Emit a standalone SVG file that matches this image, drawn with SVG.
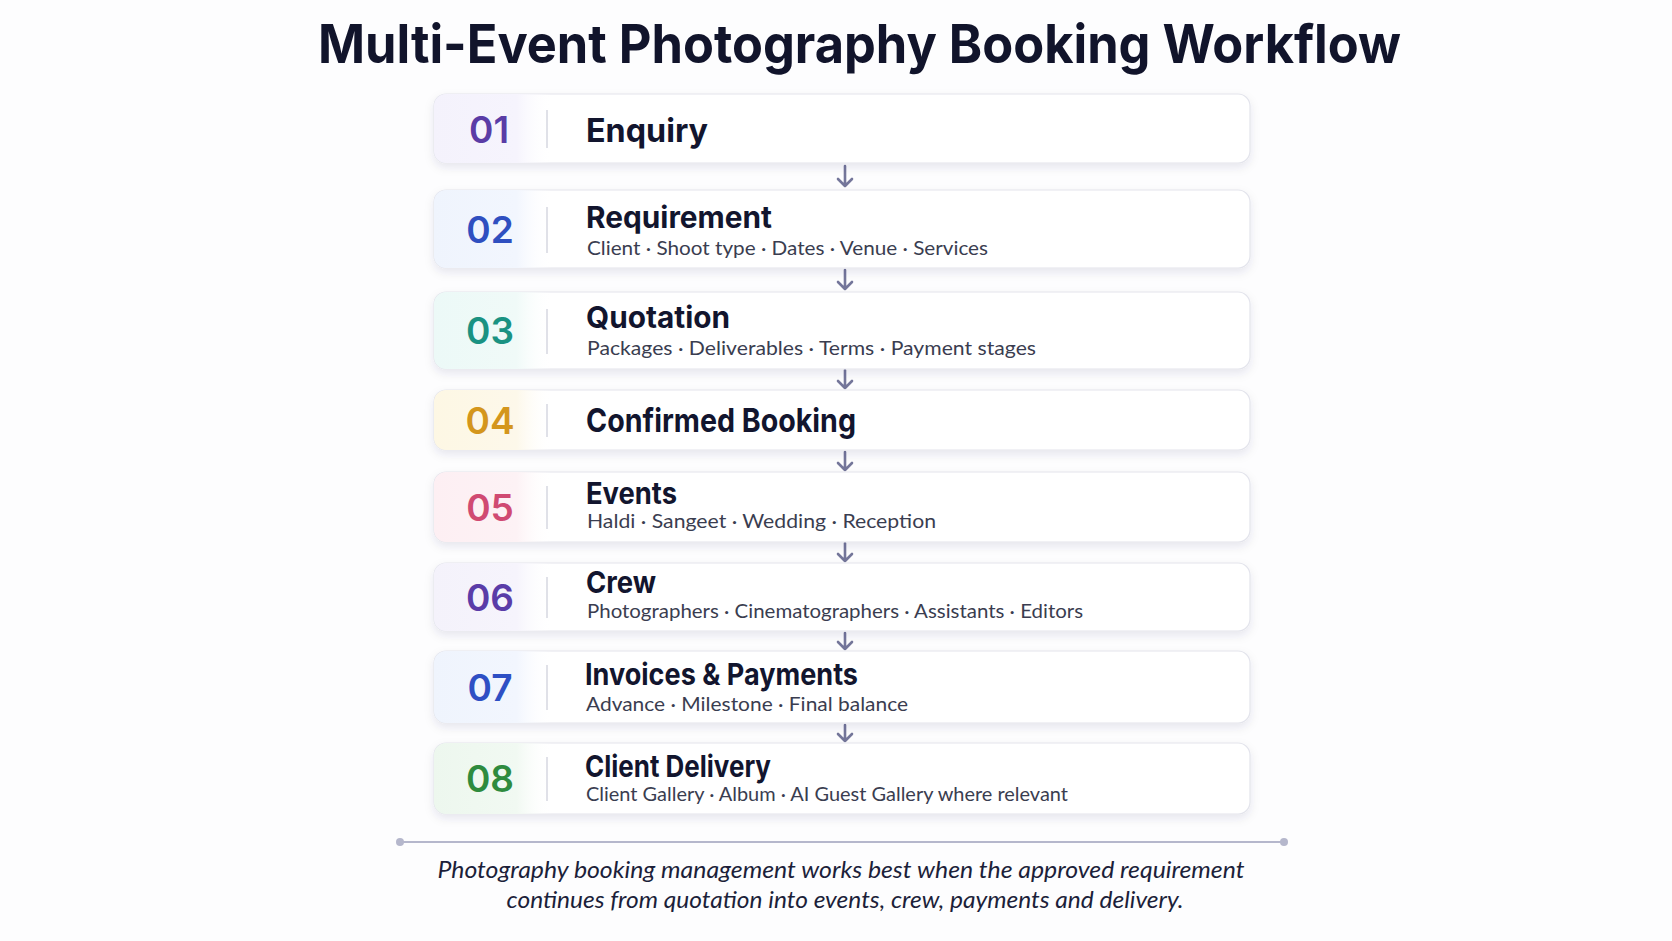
<svg xmlns="http://www.w3.org/2000/svg" width="1672" height="941" viewBox="0 0 1672 941">
  <defs>
    <filter id="sh" x="-5%" y="-30%" width="110%" height="170%">
      <feDropShadow dx="0" dy="4" stdDeviation="5" flood-color="#1a1f4a" flood-opacity="0.09"/>
    </filter>
    <linearGradient id="g1" x1="0" x2="1" y1="0" y2="0"><stop offset="0" stop-color="#f4f2fc"/><stop offset="0.7" stop-color="#f6f4fd"/><stop offset="1" stop-color="#ffffff" stop-opacity="0"/></linearGradient>
    <linearGradient id="g2" x1="0" x2="1" y1="0" y2="0"><stop offset="0" stop-color="#eff4fd"/><stop offset="0.7" stop-color="#f2f6fe"/><stop offset="1" stop-color="#ffffff" stop-opacity="0"/></linearGradient>
    <linearGradient id="g3" x1="0" x2="1" y1="0" y2="0"><stop offset="0" stop-color="#ecf9f7"/><stop offset="0.7" stop-color="#f0faf8"/><stop offset="1" stop-color="#ffffff" stop-opacity="0"/></linearGradient>
    <linearGradient id="g4" x1="0" x2="1" y1="0" y2="0"><stop offset="0" stop-color="#fdf7e4"/><stop offset="0.7" stop-color="#fdf8ea"/><stop offset="1" stop-color="#ffffff" stop-opacity="0"/></linearGradient>
    <linearGradient id="g5" x1="0" x2="1" y1="0" y2="0"><stop offset="0" stop-color="#fdeff3"/><stop offset="0.7" stop-color="#fdf2f5"/><stop offset="1" stop-color="#ffffff" stop-opacity="0"/></linearGradient>
    <linearGradient id="g6" x1="0" x2="1" y1="0" y2="0"><stop offset="0" stop-color="#f4f2fb"/><stop offset="0.7" stop-color="#f6f4fc"/><stop offset="1" stop-color="#ffffff" stop-opacity="0"/></linearGradient>
    <linearGradient id="g7" x1="0" x2="1" y1="0" y2="0"><stop offset="0" stop-color="#eff4fd"/><stop offset="0.7" stop-color="#f2f6fe"/><stop offset="1" stop-color="#ffffff" stop-opacity="0"/></linearGradient>
    <linearGradient id="g8" x1="0" x2="1" y1="0" y2="0"><stop offset="0" stop-color="#edf7ee"/><stop offset="0.7" stop-color="#f1f9f2"/><stop offset="1" stop-color="#ffffff" stop-opacity="0"/></linearGradient>
  </defs>
  <style>
    .card{fill:#ffffff;stroke:#e3e4ec;stroke-width:1.2}
    .div{stroke:#d6d7e0;stroke-width:1.5}
    .num{font-family:Inter,"Noto Sans",sans-serif;font-weight:600;font-size:37px;text-anchor:middle}
    .h{font-family:Inter,"Noto Sans",sans-serif;font-weight:700;font-size:30px;fill:#12152e}
    .h1{font-size:33px}
    .sub{font-family:Lato,"Noto Sans",sans-serif;font-size:19px;fill:#3a3d50}
    .arr{fill:none;stroke:#74769a;stroke-width:2.6;stroke-linecap:round;stroke-linejoin:round}
    .cap{font-family:Lato,"Open Sans",sans-serif;font-style:italic;font-size:23px;fill:#1c1f3a;text-anchor:middle}
  </style>
  <rect width="1672" height="941" fill="#fdfdfe"/>
  <text x="318" y="63" font-family="Inter,'Noto Sans',sans-serif" font-weight="700" font-size="54" fill="#11142b" textLength="1083" lengthAdjust="spacingAndGlyphs">Multi-Event Photography Booking Workflow</text>

  <g id="connectors">
    <path class="arr" d="M845 166V186M838 179L845 186L852 179"/>
    <path class="arr" d="M845 270V289M838 282L845 289L852 282"/>
    <path class="arr" d="M845 370V388M838 381L845 388L852 381"/>
    <path class="arr" d="M845 452V470M838 463L845 470L852 463"/>
    <path class="arr" d="M845 543V561M838 554L845 561L852 554"/>
    <path class="arr" d="M845 633V649M838 642L845 649L852 642"/>
    <path class="arr" d="M845 725V741M838 734L845 741L852 734"/>
  </g>

  <g id="step01">
    <rect class="card" x="434" y="94" width="816" height="69" rx="12" filter="url(#sh)"/>
    <path d="M446 94H552V163H446A12 12 0 0 1 434 151V106A12 12 0 0 1 446 94Z" fill="url(#g1)"/>
    <line class="div" x1="547" y1="110" x2="547" y2="148"/>
    <text class="num" x="489" y="142.5" fill="#5a3ca6">01</text>
    <text class="h h1" x="586" y="142" textLength="122" lengthAdjust="spacingAndGlyphs">Enquiry</text>
  </g>
  <g id="step02">
    <rect class="card" x="434" y="190" width="816" height="78" rx="12" filter="url(#sh)"/>
    <path d="M446 190H552V268H446A12 12 0 0 1 434 256V202A12 12 0 0 1 446 190Z" fill="url(#g2)"/>
    <line class="div" x1="547" y1="207" x2="547" y2="253"/>
    <text class="num" x="490" y="243" fill="#2f4fc0">02</text>
    <text class="h" x="586" y="228" textLength="186" lengthAdjust="spacingAndGlyphs">Requirement</text>
    <text class="sub" x="587" y="255" textLength="401" lengthAdjust="spacingAndGlyphs">Client · Shoot type · Dates · Venue · Services</text>
  </g>
  <g id="step03">
    <rect class="card" x="434" y="292" width="816" height="77" rx="12" filter="url(#sh)"/>
    <path d="M446 292H552V369H446A12 12 0 0 1 434 357V304A12 12 0 0 1 446 292Z" fill="url(#g3)"/>
    <line class="div" x1="547" y1="309" x2="547" y2="354"/>
    <text class="num" x="490" y="344" fill="#1a9282">03</text>
    <text class="h" x="586" y="328" textLength="144" lengthAdjust="spacingAndGlyphs">Quotation</text>
    <text class="sub" x="587" y="355" textLength="449" lengthAdjust="spacingAndGlyphs">Packages · Deliverables · Terms · Payment stages</text>
  </g>
  <g id="step04">
    <rect class="card" x="434" y="390" width="816" height="60" rx="12" filter="url(#sh)"/>
    <path d="M446 390H552V450H446A12 12 0 0 1 434 438V402A12 12 0 0 1 446 390Z" fill="url(#g4)"/>
    <line class="div" x1="547" y1="404" x2="547" y2="437"/>
    <text class="num" x="490" y="434" fill="#d4961c">04</text>
    <text class="h h1" x="586" y="432" textLength="270" lengthAdjust="spacingAndGlyphs">Confirmed Booking</text>
  </g>
  <g id="step05">
    <rect class="card" x="434" y="472" width="816" height="70" rx="12" filter="url(#sh)"/>
    <path d="M446 472H552V542H446A12 12 0 0 1 434 530V484A12 12 0 0 1 446 472Z" fill="url(#g5)"/>
    <line class="div" x1="547" y1="486" x2="547" y2="529"/>
    <text class="num" x="490" y="521" fill="#d04a72">05</text>
    <text class="h" x="586" y="504" textLength="91" lengthAdjust="spacingAndGlyphs">Events</text>
    <text class="sub" x="587" y="528" textLength="349" lengthAdjust="spacingAndGlyphs">Haldi · Sangeet · Wedding · Reception</text>
  </g>
  <g id="step06">
    <rect class="card" x="434" y="563" width="816" height="68" rx="12" filter="url(#sh)"/>
    <path d="M446 563H552V631H446A12 12 0 0 1 434 619V575A12 12 0 0 1 446 563Z" fill="url(#g6)"/>
    <line class="div" x1="547" y1="577" x2="547" y2="618"/>
    <text class="num" x="490" y="611" fill="#5a3ca8">06</text>
    <text class="h" x="586" y="593" textLength="70" lengthAdjust="spacingAndGlyphs">Crew</text>
    <text class="sub" x="587" y="618" textLength="496" lengthAdjust="spacingAndGlyphs">Photographers · Cinematographers · Assistants · Editors</text>
  </g>
  <g id="step07">
    <rect class="card" x="434" y="651" width="816" height="72" rx="12" filter="url(#sh)"/>
    <path d="M446 651H552V723H446A12 12 0 0 1 434 711V663A12 12 0 0 1 446 651Z" fill="url(#g7)"/>
    <line class="div" x1="547" y1="665" x2="547" y2="710"/>
    <text class="num" x="490" y="701" fill="#2e4fc4">07</text>
    <text class="h" x="585" y="685" textLength="273" lengthAdjust="spacingAndGlyphs">Invoices &amp; Payments</text>
    <text class="sub" x="586" y="711" fill="#3c4476" textLength="322" lengthAdjust="spacingAndGlyphs">Advance · Milestone · Final balance</text>
  </g>
  <g id="step08">
    <rect class="card" x="434" y="743" width="816" height="71" rx="12" filter="url(#sh)"/>
    <path d="M446 743H552V814H446A12 12 0 0 1 434 802V755A12 12 0 0 1 446 743Z" fill="url(#g8)"/>
    <line class="div" x1="547" y1="757" x2="547" y2="801"/>
    <text class="num" x="490" y="792" fill="#2e8b3e">08</text>
    <text class="h" x="585" y="777" textLength="186" lengthAdjust="spacingAndGlyphs">Client Delivery</text>
    <text class="sub" x="586" y="801" textLength="482" lengthAdjust="spacingAndGlyphs">Client Gallery · Album · AI Guest Gallery where relevant</text>
  </g>

  <g id="footer">
    <line x1="400" y1="842" x2="1284" y2="842" stroke="#b5b7cc" stroke-width="2"/>
    <circle cx="400" cy="842" r="4" fill="#b5b7cc"/>
    <circle cx="1284" cy="842" r="4" fill="#b5b7cc"/>
    <text class="cap" x="841" y="878" textLength="807" lengthAdjust="spacingAndGlyphs">Photography booking management works best when the approved requirement</text>
    <text class="cap" x="845" y="908" textLength="677" lengthAdjust="spacingAndGlyphs">continues from quotation into events, crew, payments and delivery.</text>
  </g>
</svg>
